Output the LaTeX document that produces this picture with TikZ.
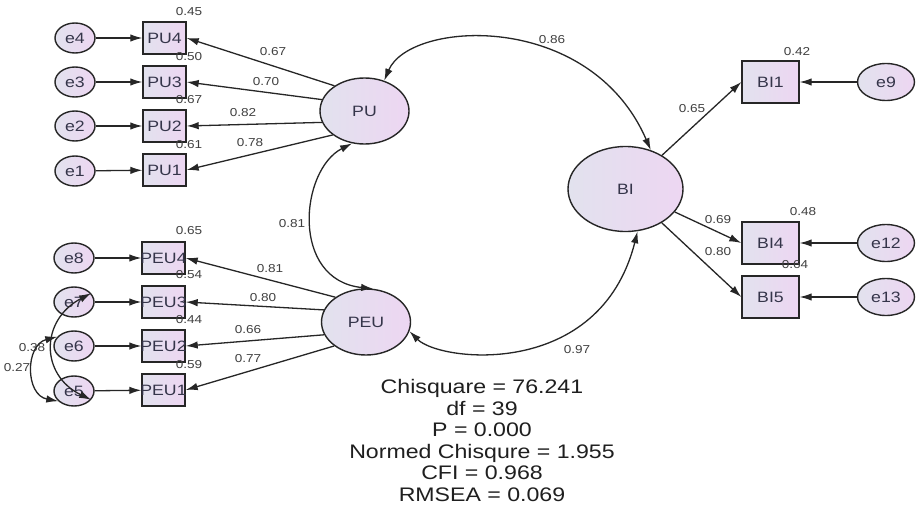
\documentclass[tikz,border=0pt]{standalone}
\usepackage{fontspec}
\setmainfont{Liberation Sans}[FakeStretch=1.18]
\usetikzlibrary{shapes.geometric,arrows.meta}
\definecolor{lnc}{HTML}{262626}
\definecolor{fillA}{HTML}{E2E2EE}
\definecolor{fillB}{HTML}{EDD6F2}
\definecolor{txt}{HTML}{35354A}
\definecolor{numc}{HTML}{404040}
\newcommand\zt[1]{\makebox[0pt]{#1}}
\tikzset{
  base/.style={draw=lnc, line width=1.4pt, left color=fillA, right color=fillB, inner sep=0pt, text=txt, font=\fontsize{15}{17}\selectfont},
  err/.style={base, ellipse, minimum width=40pt, minimum height=30pt},
  errbig/.style={base, ellipse, minimum width=57pt, minimum height=37pt},
  obs/.style={base, rectangle, minimum width=43pt, minimum height=32pt},
  obsbig/.style={base, rectangle, minimum width=57pt, minimum height=42pt},
  lat/.style={base, ellipse, minimum width=89pt, minimum height=66pt},
  latbig/.style={base, ellipse, minimum width=115pt, minimum height=85pt},
  arr/.style={-{Latex[length=12pt,width=7.5pt]}, line width=1.3pt, draw=lnc},
  biarr/.style={{Latex[length=12pt,width=7.5pt]}-{Latex[length=12pt,width=7.5pt]}, line width=1.3pt, draw=lnc},
  num/.style={inner sep=0pt, text=numc, font=\fontsize{11.5}{13}\selectfont},
  stats/.style={inner sep=0pt, align=center, text=black!88, font=\fontsize{19.6}{21.6}\selectfont}
}
\begin{document}
\begin{tikzpicture}[x=1pt,y=-1pt]
\useasboundingbox[fill=white] (0,0) rectangle (917,508);
% left PU block
\node[err] (e4) at (75,38) {\zt{e4}};
\node[err] (e3) at (75,82) {\zt{e3}};
\node[err] (e2) at (75,126) {\zt{e2}};
\node[err] (e1) at (75,171) {\zt{e1}};
\node[obs] (PU4) at (164.5,38) {\zt{PU4}};
\node[obs] (PU3) at (164.5,82) {\zt{PU3}};
\node[obs] (PU2) at (164.5,126) {\zt{PU2}};
\node[obs] (PU1) at (164.5,170) {\zt{PU1}};
% left PEU block
\node[err] (e8) at (74,258) {\zt{e8}};
\node[err] (e7) at (74,302) {\zt{e7}};
\node[err] (e6) at (74,346) {\zt{e6}};
\node[err] (e5) at (74,391) {\zt{e5}};
\node[obs] (PEU4) at (163.5,258) {\zt{PEU4}};
\node[obs] (PEU3) at (163.5,302) {\zt{PEU3}};
\node[obs] (PEU2) at (163.5,346) {\zt{PEU2}};
\node[obs] (PEU1) at (163.5,390) {\zt{PEU1}};
% latent
\node[lat] (PU) at (364.5,111) {PU};
\node[lat] (PEU) at (366,322) {PEU};
\node[latbig] (BI) at (625.5,189) {BI};
% right block
\node[obsbig] (BI1) at (770.5,82) {BI1};
\node[obsbig] (BI4) at (770.5,243) {BI4};
\node[obsbig] (BI5) at (770.5,297) {BI5};
\node[errbig] (e9) at (886,82) {e9};
\node[errbig] (e12) at (886,243) {e12};
\node[errbig] (e13) at (886,297) {e13};
% error arrows
\foreach \a/\b in {e4/PU4,e3/PU3,e2/PU2,e1/PU1,e8/PEU4,e7/PEU3,e6/PEU2,e5/PEU1,e9/BI1,e12/BI4,e13/BI5}
  \draw[arr] (\a) -- (\b);
% loadings
\draw[arr] (PU.140) -- (PU4.east);
\draw[arr] (PU.165) -- (PU3.east);
\draw[arr] (PU.195) -- (PU2.east);
\draw[arr] (PU.217) -- (PU1.east);
\draw[arr] (PEU.141) -- (PEU4.east);
\draw[arr] (PEU.164) -- (PEU3.east);
\draw[arr] (PEU.197) -- (PEU2.east);
\draw[arr] (PEU.217) -- (PEU1.east);
\draw[arr] (BI) -- (BI1.west);
\draw[arr] (BI) -- (BI4.west);
\draw[arr] (BI) -- (BI5.west);
% labels
\node[num] (r1) at (189,12) {0.45};
\node[num] (r2) at (189,57) {0.50};
\node[num] (r3) at (189,100) {0.67};
\node[num] (r4) at (189,145) {0.61};
\node[num] (l1) at (273,52) {0.67};
\node[num] (l2) at (266,82) {0.70};
\node[num] (l3) at (243,113) {0.82};
\node[num] (l4) at (250,143) {0.78};
\node[num] (r5) at (189,231) {0.65};
\node[num] (r6) at (189,275) {0.54};
\node[num] (r7) at (189,320) {0.44};
\node[num] (r8) at (189,365) {0.59};
\node[num] (l5) at (270,269) {0.81};
\node[num] (l6) at (263,298) {0.80};
\node[num] (l7) at (248,330) {0.66};
\node[num] (l8) at (248,359) {0.77};
\node[num] (r9) at (797,52) {0.42};
\node[num] (r10) at (803,212) {0.48};
\node[num] (r11) at (795,265) {0.64};
\node[num] (l9) at (692,109) {0.65};
\node[num] (l10) at (718,220) {0.69};
\node[num] (l11) at (718,252) {0.80};
\node[num] (c1) at (552,40) {0.86};
\node[num] (c2) at (292,224) {0.81};
\node[num] (c3) at (577,350) {0.97};
\node[num] (c4) at (32,348) {0.38};
\node[num] (c5) at (17,368) {0.27};
% covariances
\draw[biarr] (PU.57) .. controls (410,20) and (590,10) .. (BI.57);
\draw[biarr] (PU.249) .. controls (300,170) and (290,280) .. (PEU.78);
\draw[biarr] (PEU.-12) .. controls (440,362) and (600,380) .. (BI.-74);
\draw[biarr] (e7.27) .. controls (40,320) and (40,375) .. (e5.-27);
\draw[biarr] (e6.151) .. controls (25,345) and (25,395) .. (e5.213);
% fit
\node[stats, anchor=north] (fit) at (482,379) {Chisquare = 76.241\\df = 39\\P = 0.000\\Normed Chisqure = 1.955\\CFI = 0.968\\RMSEA = 0.069};
\end{tikzpicture}
\end{document}
